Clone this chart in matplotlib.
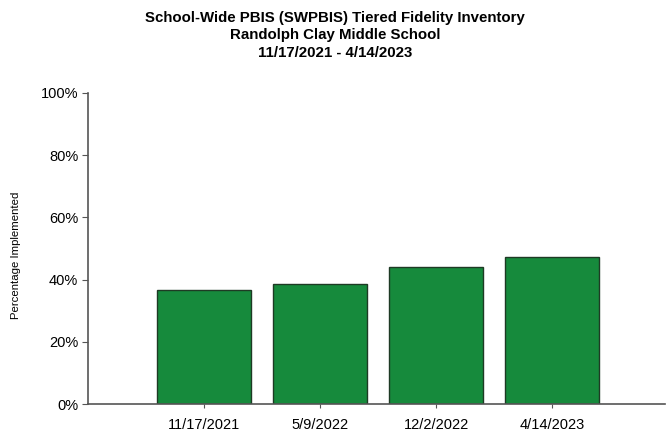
import matplotlib
matplotlib.use("Agg")
import matplotlib.pyplot as plt
from matplotlib.ticker import PercentFormatter

categories = ["11/17/2021", "5/9/2022", "12/2/2022", "4/14/2023"]
values = [36.5, 38.5, 44.0, 47.3]
yticks = [0, 20, 40, 60, 80, 100]

plt.rcParams['font.family'] = ['Liberation Sans', 'DejaVu Sans']

fig = plt.figure(figsize=(6.7, 4.33), dpi=100)
ax = fig.add_axes([88/670, 1-404/433, (665-88)/670, (404-93)/433])

x = list(range(len(categories)))
ax.bar(x, values, width=0.81, color='#168a3c', edgecolor='#1e3a24', linewidth=1.0, zorder=2)

ax.set_xlim(-1, 3.97)
ax.set_ylim(0, 100)
ax.set_yticks(yticks)
ax.yaxis.set_major_formatter(PercentFormatter(decimals=0))
ax.set_xticks(x)
ax.set_xticklabels(categories, fontsize=10.5)
ax.tick_params(axis='y', labelsize=10.5, length=4, color='#555555', pad=3)
ax.tick_params(axis='x', length=3, color='#555555', pad=7)

for s in ['top', 'right']:
    ax.spines[s].set_visible(False)
ax.spines['left'].set_color('#555555')
ax.spines['bottom'].set_color('#555555')
ax.spines['left'].set_linewidth(1.2)
ax.spines['bottom'].set_linewidth(1.2)

fig.text(16/670, 1-255/433, "Percentage Implemented", rotation=90, fontsize=8.2,
         ha='center', va='center')

fig.text(0.5, 1-18/433, "School-Wide PBIS (SWPBIS) Tiered Fidelity Inventory",
         ha='center', va='center', fontsize=10.8, fontweight='bold')
fig.text(0.5, 1-35/433, "Randolph Clay Middle School",
         ha='center', va='center', fontsize=10.8, fontweight='bold')
fig.text(0.5, 1-53/433, "11/17/2021 - 4/14/2023",
         ha='center', va='center', fontsize=10.8, fontweight='bold')

fig.savefig("out.png", dpi=100)
